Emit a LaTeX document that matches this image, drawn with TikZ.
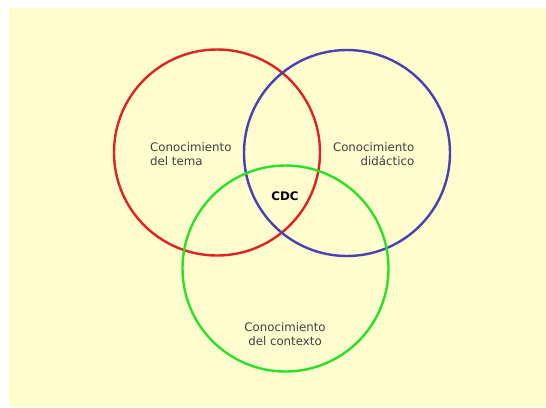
\documentclass[tikz,border=0pt]{standalone}
\usepackage{fontspec}
\setmainfont{DejaVu Sans}
\usepackage{tikz}
\tikzset{circ/.style={circle,draw,line width=2.4pt,minimum size=206pt,inner sep=0pt},
  lbl/.style={inner sep=0pt,text=black!75,font=\fontsize{11.8}{14}\selectfont}}

\begin{document}
\begin{tikzpicture}[x=1pt,y=-1pt]
\useasboundingbox (0,0) rectangle (546,407);
\fill[fill={rgb,255:red,255;green,252;blue,206}] (9,8) rectangle (546,407);
\node[circ,draw={rgb,255:red,222;green,35;blue,35}] (ctema) at (217,152.5) {};
\node[circ,draw={rgb,255:red,70;green,65;blue,180}] (cdid) at (347,153) {};
\node[circ,draw={rgb,255:red,40;green,225;blue,40}] (ccont) at (285.5,268.5) {};

\node[lbl,align=left,anchor=west] (tema) at (150,154) {Conocimiento\\del tema};
\node[lbl,align=right,anchor=east] (didactico) at (414.5,154) {Conocimiento\\didáctico};
\node[lbl,align=center] (contexto) at (285,334) {Conocimiento\\del contexto};
\node[lbl,text=black,font=\fontsize{11.8}{14}\selectfont\bfseries] (cdc) at (285,196) {CDC};
\end{tikzpicture}
\end{document}
